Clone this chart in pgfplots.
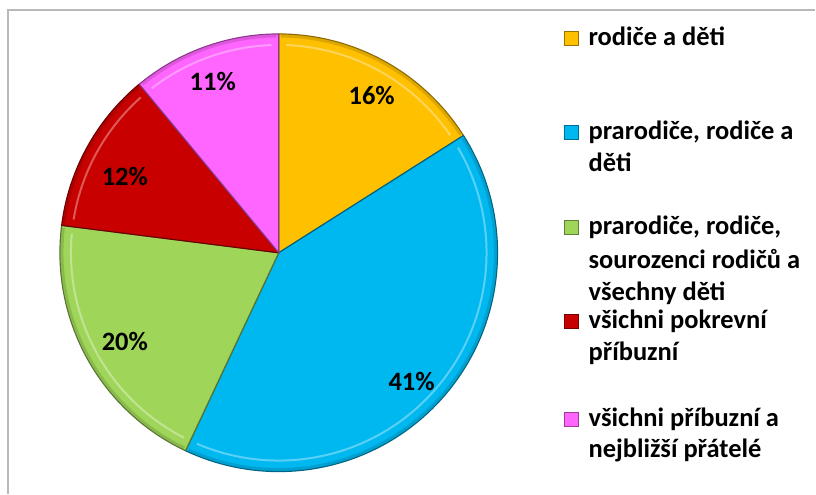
\documentclass[border=0pt]{standalone}
\usepackage{fontspec}
\setmainfont{Carlito}
\usepackage{pgfplots}
\pgfplotsset{compat=1.18}

\definecolor{yel}{HTML}{FFC000}
\definecolor{blu}{HTML}{00B8F0}
\definecolor{grn}{HTML}{9FD65A}
\definecolor{rdd}{HTML}{C80000}
\definecolor{pnk}{HTML}{FF66FF}

% one slice: start (percent), value (percent), colour
\newcommand{\slice}[3]{%
  \addplot[fill=#3, draw=#3!55!black, line width=1.2pt, line join=round,
    domain={#1*3.6}:{(#1+#2)*3.6}, samples=90, variable=\t]
    ({279+219*sin(t)},{253-219*cos(t)}) -- (axis cs:279,253) -- cycle;
  \addplot[draw=#3!75!black, opacity=0.5, line width=3pt,
    domain={#1*3.6+0.6}:{(#1+#2)*3.6-0.6}, samples=90, variable=\t]
    ({279+217*sin(t)},{253-217*cos(t)});
  \addplot[draw=white, opacity=0.35, line width=2pt,
    domain={#1*3.6+2}:{(#1+#2)*3.6-2}, samples=90, variable=\t]
    ({279+208*sin(t)},{253-208*cos(t)});
}
\newcommand{\legmark}[3]{%
  \addplot[only marks, mark=square*, mark size=7pt,
    mark options={fill=#1, draw=#1!60!black, line width=0.6pt}]
    coordinates {(#2,#3)};
}

\begin{document}
\begin{tikzpicture}
\begin{axis}[
    hide axis,
    scale only axis,
    width=816pt, height=494pt,
    xmin=0, xmax=816, ymin=0, ymax=494,
    y dir=reverse,
    clip=false,
]
\path (axis cs:0,0) rectangle (axis cs:816,494);
% frame
\draw[gray!55, line width=1.5pt] (axis cs:8,494) -- (axis cs:8,10) -- (axis cs:816,10);

% slices: cumulative start, value
\slice{0}{16}{yel}
\slice{16}{41}{blu}
\slice{57}{20}{grn}
\slice{77}{12}{rdd}
\slice{89}{11}{pnk}

% percentage labels
\begin{scope}[every node/.style={font=\fontsize{26.5}{32}\selectfont\bfseries, anchor=center, text=black}]
\node at (axis cs:372,96) {16\%};
\node at (axis cs:412,382) {41\%};
\node at (axis cs:125,342) {20\%};
\node at (axis cs:125,177) {12\%};
\node at (axis cs:213,82) {11\%};
\end{scope}

% legend
\legmark{yel}{572}{38}
\legmark{blu}{572}{132}
\legmark{grn}{572}{228}
\legmark{rdd}{572}{322}
\legmark{pnk}{572}{420}
\begin{scope}[every node/.style={font=\fontsize{26.5}{32}\selectfont\bfseries, anchor=base west, inner sep=0pt}]
\node at (axis cs:589,46) {rodiče a děti};
\node at (axis cs:589,140) {prarodiče, rodiče a};
\node at (axis cs:589,172) {děti};
\node at (axis cs:589,235) {prarodiče, rodiče,};
\node at (axis cs:589,269) {sourozenci rodičů a};
\node at (axis cs:589,301) {všechny děti};
\node at (axis cs:589,329) {všichni pokrevní};
\node at (axis cs:589,361) {příbuzní};
\node at (axis cs:589,427) {všichni příbuzní a};
\node at (axis cs:589,458) {nejbližší přátelé};
\end{scope}
\end{axis}
\end{tikzpicture}
\end{document}
